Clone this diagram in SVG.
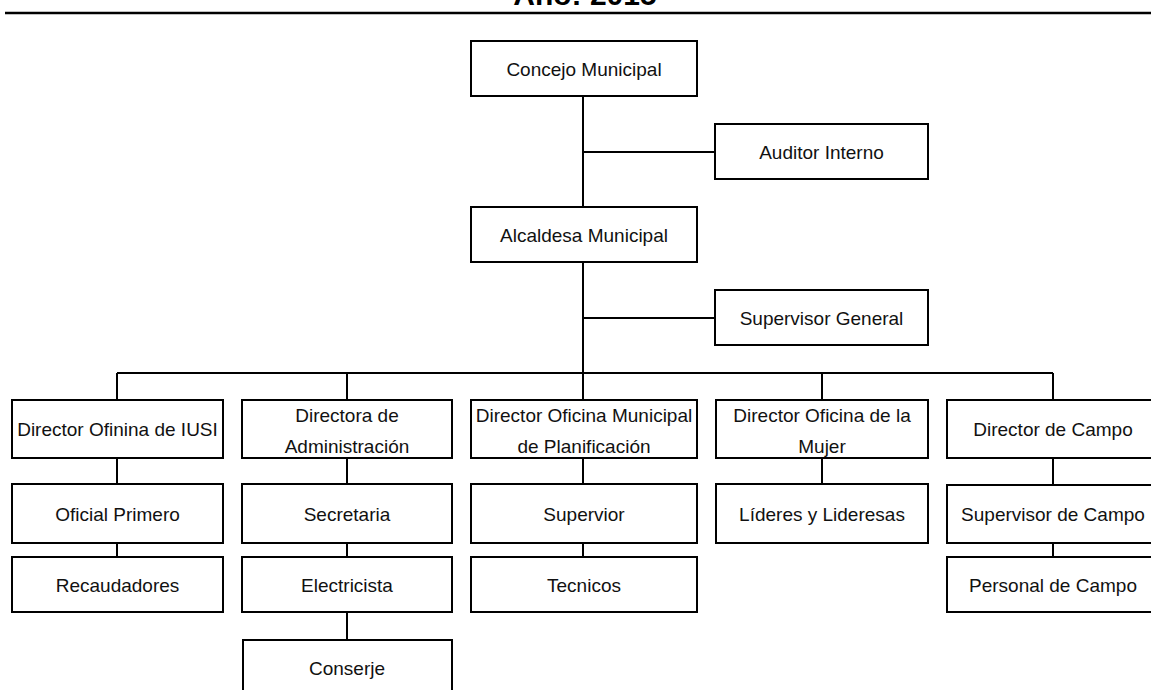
<svg xmlns="http://www.w3.org/2000/svg" width="1151" height="690" viewBox="0 0 1151 690">
<style>
.b{fill:#fff;stroke:#000;stroke-width:2}
.t{font-family:"Liberation Sans",Arial,sans-serif;font-size:19px;fill:#111;text-anchor:middle}
.c{stroke:#000;stroke-width:2;fill:none}
.h{font-family:"Liberation Sans",Arial,sans-serif;font-size:30px;font-weight:bold;fill:#000;text-anchor:middle}
</style>
<rect width="1151" height="690" fill="#fff"/>
<g id="title">
<text class="h" x="585" y="5">Año: 2015</text>
<line x1="5" y1="13" x2="1151" y2="13" stroke="#000" stroke-width="2.5"/>
</g>
<g id="connectors">
<path class="c" d="M583 96V400M583 152H715M583 318H715M117 373H1053M117 373V400M347 373V400M822 373V400M1053 373V400"/>
<path class="c" d="M117 458V484M117 543V557M347 458V484M347 543V557M347 612V640M583 458V484M583 543V557M822 458V484M1053 458V485M1053 543V557"/>
</g>
<g id="concejo"><rect class="b" x="471" y="41" width="226" height="55"/><text class="t" x="584" y="75.5">Concejo Municipal</text></g>
<g id="auditor"><rect class="b" x="715" y="124" width="213" height="55"/><text class="t" x="821.5" y="158.5">Auditor Interno</text></g>
<g id="alcaldesa"><rect class="b" x="471" y="207" width="226" height="55"/><text class="t" x="584" y="241.5">Alcaldesa Municipal</text></g>
<g id="supgeneral"><rect class="b" x="715" y="290" width="213" height="55"/><text class="t" x="821.5" y="324.5">Supervisor General</text></g>
<g id="iusi"><rect class="b" x="12" y="400" width="211" height="58"/><text class="t" x="117.5" y="436">Director Ofinina de IUSI</text></g>
<g id="admin"><rect class="b" x="242" y="400" width="210" height="58"/><text class="t" x="347" y="422">Directora de</text><text class="t" x="347" y="453">Administración</text></g>
<g id="planif"><rect class="b" x="471" y="400" width="226" height="58"/><text class="t" x="584" y="422">Director Oficina Municipal</text><text class="t" x="584" y="453">de Planificación</text></g>
<g id="mujer"><rect class="b" x="716" y="400" width="212" height="58"/><text class="t" x="822" y="422">Director Oficina de la</text><text class="t" x="822" y="453">Mujer</text></g>
<g id="campo"><rect class="b" x="947" y="400" width="213" height="58"/><text class="t" x="1053" y="436">Director de Campo</text></g>
<g id="oficial"><rect class="b" x="12" y="484" width="211" height="59"/><text class="t" x="117.5" y="520.5">Oficial Primero</text></g>
<g id="secretaria"><rect class="b" x="242" y="484" width="210" height="59"/><text class="t" x="347" y="520.5">Secretaria</text></g>
<g id="supervior"><rect class="b" x="471" y="484" width="226" height="59"/><text class="t" x="584" y="520.5">Supervior</text></g>
<g id="lideres"><rect class="b" x="716" y="484" width="212" height="59"/><text class="t" x="822" y="520.5">Líderes y Lideresas</text></g>
<g id="supcampo"><rect class="b" x="947" y="485" width="213" height="58"/><text class="t" x="1053" y="520.5">Supervisor de Campo</text></g>
<g id="recaudadores"><rect class="b" x="12" y="557" width="211" height="55"/><text class="t" x="117.5" y="591.5">Recaudadores</text></g>
<g id="electricista"><rect class="b" x="242" y="557" width="210" height="55"/><text class="t" x="347" y="591.5">Electricista</text></g>
<g id="tecnicos"><rect class="b" x="471" y="557" width="226" height="55"/><text class="t" x="584" y="591.5">Tecnicos</text></g>
<g id="personal"><rect class="b" x="947" y="557" width="213" height="55"/><text class="t" x="1053" y="591.5">Personal de Campo</text></g>
<g id="conserje"><rect class="b" x="243" y="640" width="209" height="60"/><text class="t" x="347" y="675">Conserje</text></g>
</svg>
